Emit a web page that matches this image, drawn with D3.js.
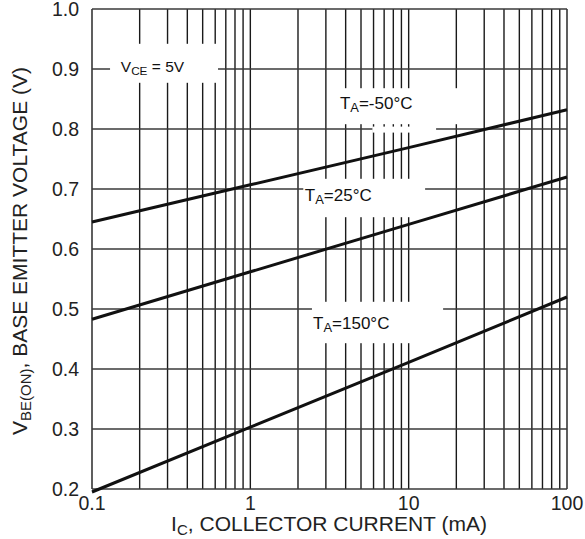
<!DOCTYPE html>
<html>
<head>
<meta charset="utf-8">
<script src="https://cdn.jsdelivr.net/npm/d3@7"></script>
<style>
  body { margin: 0; background: #fff; }
  svg { display: block; font-family: "Liberation Sans", Arial, sans-serif; }
</style>
</head>
<body>
<div id="chart"></div>
<script>
// collector current (mA) where the curves are read
const currents = [0.1, 1, 10, 100];
// base emitter voltage (V) per temperature
const vbeMinus50 = [0.645, 0.707, 0.769, 0.832];
const vbe25 = [0.483, 0.562, 0.641, 0.720];
const vbe150 = [0.195, 0.303, 0.411, 0.520];

const xTicks = [0.1, 1, 10, 100];
const xTickLabels = ["0.1", "1", "10", "100"];
const yTicks = [0.2, 0.3, 0.4, 0.5, 0.6, 0.7, 0.8, 0.9, 1.0];

const margin = { top: 9, right: 18, bottom: 50, left: 92 },
    width = 585 - margin.left - margin.right,
    height = 539 - margin.top - margin.bottom;

const svg = d3.select("#chart")
    .append("svg")
    .attr("width", 585)
    .attr("height", 539);

const g = svg.append("g")
    .attr("transform", `translate(${margin.left},${margin.top})`);

const x = d3.scaleLog()
    .domain([0.1, 100])
    .range([0, width]);

const y = d3.scaleLinear()
    .domain([0.2, 1.0])
    .range([height, 0]);

// minor + major vertical grid lines (1..9 per decade)
const vLines = [];
[0.1, 1, 10].forEach(dec => {
    for (let k = 1; k <= 9; k++) vLines.push(dec * k);
});
vLines.push(100);

g.selectAll(".vgrid")
    .data(vLines)
    .enter()
    .append("line")
    .attr("x1", d => x(d))
    .attr("x2", d => x(d))
    .attr("y1", 0)
    .attr("y2", height)
    .attr("stroke", "#1a1a1a")
    .attr("stroke-width", 1.4);

g.selectAll(".hgrid")
    .data(yTicks)
    .enter()
    .append("line")
    .attr("x1", 0)
    .attr("x2", width)
    .attr("y1", d => y(d))
    .attr("y2", d => y(d))
    .attr("stroke", "#3a3a3a")
    .attr("stroke-width", 1.4);

// white boxes behind the labels, in data units [I from, I to, V top, V bottom]
const boxes = [
    [0.13, 0.625, 0.942, 0.877],   // VCE = 5V
    [3.43, 20.5, 0.868, 0.808],    // -50
    [5.9, 14.9, 0.804, 0.794],     // gap in the 0.8 line
    [2.16, 12.7, 0.717, 0.653],    // 25
    [2.45, 16.5, 0.512, 0.443]     // 150
];
g.selectAll(".box")
    .data(boxes)
    .enter()
    .append("rect")
    .attr("x", d => x(d[0]))
    .attr("width", d => x(d[1]) - x(d[0]))
    .attr("y", d => y(d[2]))
    .attr("height", d => y(d[3]) - y(d[2]))
    .attr("fill", "#fff");

// curves
const line = d3.line()
    .x((d, i) => x(currents[i]))
    .y(d => y(d));

[vbeMinus50, vbe25, vbe150].forEach(series => {
    g.append("path")
        .datum(series)
        .attr("fill", "none")
        .attr("stroke", "#111")
        .attr("stroke-width", 3)
        .attr("d", line);
});

// curve labels
function subLabel(xv, yv, main, sub, rest, size) {
    const t = g.append("text")
        .attr("x", x(xv))
        .attr("y", y(yv))
        .attr("font-size", size)
        .attr("fill", "#111");
    t.append("tspan").text(main);
    t.append("tspan").attr("font-size", size * 0.76).attr("dy", 3).text(sub);
    t.append("tspan").attr("dy", -3).text(rest);
}
subLabel(0.152, 0.895, "V", "CE", " = 5V", 15.5);
subLabel(3.68, 0.833, "T", "A", "=-50°C", 17);
subLabel(2.21, 0.68, "T", "A", "=25°C", 17);
subLabel(2.49, 0.467, "T", "A", "=150°C", 17);

// tick labels
g.selectAll(".ylab")
    .data(yTicks)
    .enter()
    .append("text")
    .attr("x", -13)
    .attr("y", d => y(d))
    .attr("dy", "0.36em")
    .attr("text-anchor", "end")
    .attr("font-size", 19.5)
    .attr("fill", "#222")
    .text(d => d.toFixed(1));

g.selectAll(".xlab")
    .data(xTicks)
    .enter()
    .append("text")
    .attr("x", d => x(d))
    .attr("y", height + 21)
    .attr("text-anchor", "middle")
    .attr("font-size", 19.5)
    .attr("fill", "#222")
    .text((d, i) => xTickLabels[i]);

// axis titles
const xt = svg.append("text")
    .attr("x", 329)
    .attr("y", 531)
    .attr("text-anchor", "middle")
    .attr("font-size", 21)
    .attr("fill", "#222");
xt.append("tspan").text("I");
xt.append("tspan").attr("font-size", 15).attr("dy", 4).text("C");
xt.append("tspan").attr("dy", -4).text(", COLLECTOR CURRENT (mA)");

const yt = svg.append("text")
    .attr("transform", "translate(27,251) rotate(-90)")
    .attr("text-anchor", "middle")
    .attr("font-size", 21)
    .attr("fill", "#222");
yt.append("tspan").text("V");
yt.append("tspan").attr("font-size", 15).attr("dy", 4).text("BE(ON)");
yt.append("tspan").attr("dy", -4).text(", BASE EMITTER VOLTAGE (V)");
</script>
</body>
</html>
